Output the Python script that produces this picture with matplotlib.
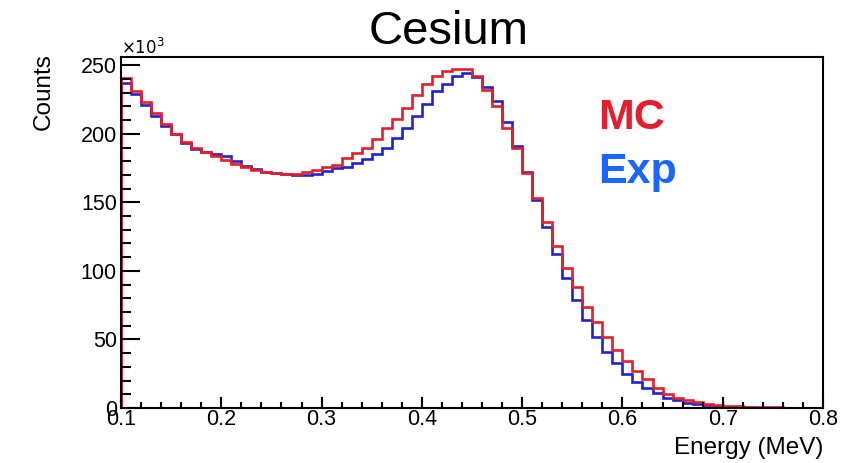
import numpy as np
import matplotlib
matplotlib.use("Agg")
import matplotlib.pyplot as plt
from matplotlib.ticker import MultipleLocator

plt.rcParams['font.family'] = ['Liberation Sans', 'DejaVu Sans']

# bin edges: 0.10 .. 0.80 MeV, 0.01 MeV wide
edges = np.round(np.arange(0.10, 0.8001, 0.01), 2)

# counts in units of 10^3
mc = [241, 231, 223, 215, 207, 200, 194, 190, 186.5, 183.5,
      181, 178, 175.5, 173.5, 172, 171.5, 171, 171, 172, 173.5,
      176, 177.5, 182, 186, 190, 196, 204, 210.5, 219, 228.5,
      236.5, 242.5, 245.5, 247, 247, 242.5, 232, 220, 204, 190,
      171.5, 153, 136, 118, 102, 88.5, 74, 62.5, 52, 42.3,
      34, 27, 21, 14.5, 10.5, 7.5, 5.5, 4.2, 3.2, 2.2,
      1.5, 1.1, 0.8, 0.6, 0.5, 0.4, 0.3, 0.3, 0.2, 0.2]
exp = [237, 229, 221, 213, 206, 200, 193, 189, 187, 185,
       184, 180, 176.5, 174, 172, 171.5, 170.5, 170, 170, 171,
       173, 175, 176, 178.5, 181.5, 185, 190, 197, 204, 213,
       222, 231, 236.5, 242, 244, 241.5, 234.5, 224, 208.5, 191,
       172, 151.5, 132, 112.5, 94.5, 79, 64.3, 52, 41, 32.6,
       25, 19.2, 14.6, 10.7, 7.6, 5.5, 4, 3, 2, 1.5,
       1.0, 0.7, 0.5, 0.3, 0.2, 0.2, 0.1, 0.1, 0.1, 0.1]

red = '#e41e2b'
blue = '#2222cc'

fig = plt.figure(figsize=(8.41, 4.63), dpi=100)
ax = fig.add_axes([0.1439, 0.1188, 0.8347, 0.758])

ax.stairs(exp, edges, color=blue, lw=1.9)
ax.stairs(mc, edges, color=red, lw=1.9)

ax.set_xlim(0.1, 0.8)
ax.set_ylim(0, 256)

ax.xaxis.set_major_locator(MultipleLocator(0.1))
ax.xaxis.set_minor_locator(MultipleLocator(0.02))
ax.yaxis.set_major_locator(MultipleLocator(50))
ax.yaxis.set_minor_locator(MultipleLocator(10))
ax.xaxis.set_major_formatter(lambda v, p: f"{v:.1f}")

ax.tick_params(axis='both', which='both', direction='in', width=1.5,
               labelsize=15.5, colors='black')
ax.tick_params(axis='y', which='major', length=14, pad=3)
ax.tick_params(axis='y', which='minor', length=7)
ax.tick_params(axis='x', which='major', length=8, pad=1)
ax.tick_params(axis='x', which='minor', length=4.5)
for s in ax.spines.values():
    s.set_linewidth(1.5)

# titles / labels, ROOT style
fig.text(0.533, 0.93, 'Cesium', fontsize=34, ha='center', va='center')
fig.text(0.052, 0.885, 'Counts', fontsize=17.5, rotation=90, ha='center', va='top')
fig.text(0.9786, 0.032, 'Energy (MeV)', fontsize=17.5, ha='right', va='center')
fig.text(0.144, 0.898, r'$\times10^{3}$', fontsize=12, ha='left', va='center')

ax.text(0.711, 0.745, 'MC', transform=fig.transFigure, color=red,
        fontsize=31, fontweight='bold', ha='left', va='center')
ax.text(0.711, 0.628, 'Exp', transform=fig.transFigure, color='#1a66ff',
        fontsize=31, fontweight='bold', ha='left', va='center')

fig.savefig('out.png', dpi=100)
